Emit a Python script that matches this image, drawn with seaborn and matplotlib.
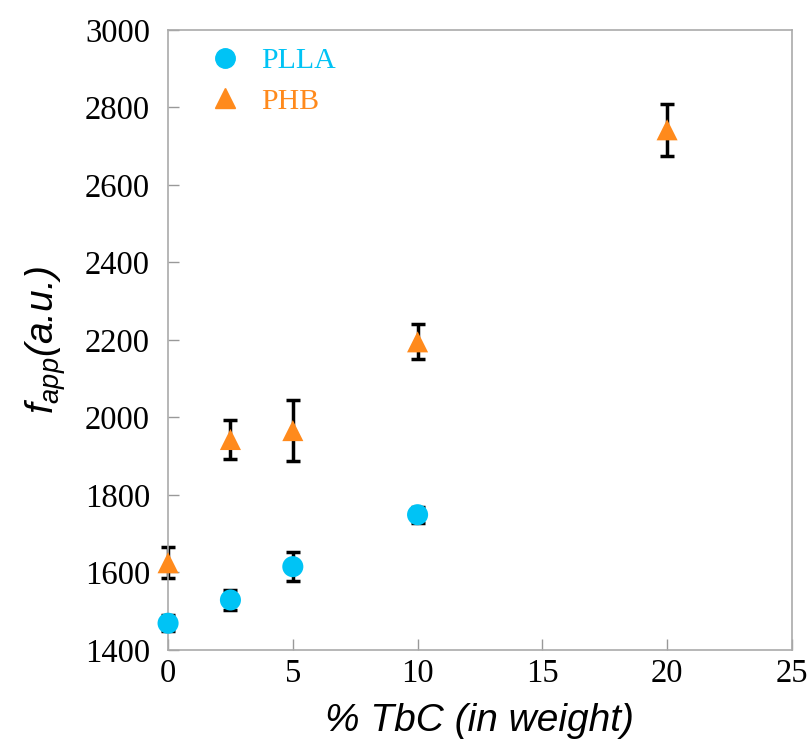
import numpy as np
import pandas as pd
import matplotlib
matplotlib.use('Agg')
import matplotlib.pyplot as plt
import seaborn as sns

# Values
pla_x = [0, 2.5, 5, 10]
pla_y = [1469, 1529, 1615, 1749]
pla_err = [21, 27, 37, 21]

phb_x = [0, 2.5, 5, 10, 20]
phb_y = [1625, 1943, 1966, 2195, 2742]
phb_err = [40, 50, 78, 45, 67]

series_names = ['PLLA', 'PHB']
colors = {'PLLA': '#00C3F5', 'PHB': '#FF8A1C'}
markers = {'PLLA': 'o', 'PHB': '^'}

df = pd.concat([
    pd.DataFrame({'TbC': pla_x, 'fapp': pla_y, 'err': pla_err, 'Polymer': 'PLLA'}),
    pd.DataFrame({'TbC': phb_x, 'fapp': phb_y, 'err': phb_err, 'Polymer': 'PHB'}),
], ignore_index=True)

sns.set_style('white')
plt.rcParams['font.family'] = ['Liberation Serif', 'DejaVu Serif']
plt.rcParams['text.color'] = 'black'
plt.rcParams['axes.labelcolor'] = 'black'
plt.rcParams['xtick.color'] = 'black'
plt.rcParams['ytick.color'] = 'black'
plt.rcParams['mathtext.fontset'] = 'custom'
plt.rcParams['mathtext.rm'] = 'Liberation Sans'
plt.rcParams['mathtext.it'] = 'Liberation Sans:italic'

fig = plt.figure(figsize=(8.08, 7.49), dpi=100)
ax = fig.add_axes([0.208, 0.1322, 0.772, 0.828])

# error bars first so the markers sit on top
for name in series_names:
    sub = df[df['Polymer'] == name]
    eb = ax.errorbar(sub['TbC'], sub['fapp'], yerr=sub['err'], fmt='none',
                     ecolor='black', elinewidth=2.5, capsize=5, capthick=2.5, zorder=2)
    for art in eb.lines[1] + eb.lines[2]:
        art.set_clip_on(False)

sns.scatterplot(data=df, x='TbC', y='fapp', hue='Polymer', style='Polymer',
                palette=colors, markers=markers, hue_order=series_names,
                style_order=series_names, s=230, edgecolor='none',
                legend=False, ax=ax, zorder=3, clip_on=False)

ax.set_xlim(0, 25)
ax.set_ylim(1400, 3000)
ax.set_xticks(np.arange(0, 26, 5))
ax.set_yticks(np.arange(1400, 3001, 200))
ax.tick_params(direction='in', length=8, width=1, color='#999999',
               labelcolor='black', labelsize=23.5,
               left=True, bottom=True)
ax.tick_params(axis='x', pad=6)
ax.tick_params(axis='y', pad=13)
for sp in ax.spines.values():
    sp.set_color('#aaaaaa')
    sp.set_linewidth(1.2)

ax.set_xlabel('% TbC (in weight)', fontsize=28, style='italic',
              family='Liberation Sans', labelpad=10)
ax.set_ylabel(r'$f_{app}$(a.u.)', fontsize=28, style='italic',
              family='Liberation Sans', labelpad=12)

# legend with coloured text, no frame
handles = [plt.Line2D([], [], linestyle='none', marker=markers[n], color=colors[n],
                      markersize=14) for n in series_names]
leg = ax.legend(handles, series_names, loc='upper left', frameon=False,
                fontsize=21.5, handletextpad=0.2, labelspacing=0.45,
                bbox_to_anchor=(0.0, 1.015), labelcolor=[colors[n] for n in series_names])

plt.savefig('out.png', dpi=100)
